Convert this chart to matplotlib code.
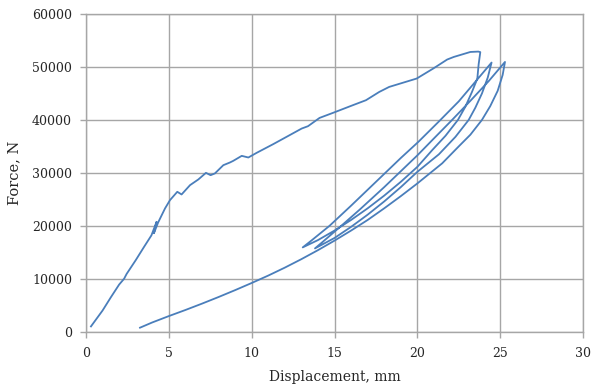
import numpy as np
import matplotlib.pyplot as plt

# first loading up to the peak
load_x = [0.3, 1.0, 1.5, 2.0, 2.3, 2.45, 3.0, 3.5, 3.95, 4.26, 4.1, 4.35, 4.77, 5.07, 5.51, 5.77,
          6.28, 6.78, 7.24, 7.52, 7.78, 8.29, 8.69, 8.89, 9.4, 9.8, 10.3, 11.3, 12.1, 13.02, 13.4,
          14.1, 14.9, 16.1, 16.9, 17.7, 18.3, 19.96, 20.96, 21.8, 22.2, 23.2, 23.68]
load_y = [1000, 4000, 6500, 8900, 10000, 10900, 13500, 16000, 18200, 20750, 18600, 20600, 23280, 24850,
          26420, 25920, 27680, 28750, 30000, 29560, 29890, 31450, 31960, 32270, 33210, 32900, 33780,
          35420, 36790, 38370, 38810, 40380, 41320, 42770, 43720, 45280, 46230, 47810, 49700, 51400,
          51890, 52830, 52900]

# unloading / reloading cycles
unload1_x = [23.8, 23.7, 23.62, 23.3, 22.9, 22.45, 21.7, 20.9, 20.0, 19.0, 18.0, 17.0, 16.0, 15.0, 14.0, 13.08]
unload1_y = [52800, 50500, 47800, 45300, 42500, 40000, 37000, 34300, 31130, 28300, 25700, 23300, 21100, 19100, 17300, 15920]

reload1_x = [13.6, 14.7, 16.0, 17.0, 18.0, 19.0, 20.06, 21.3, 22.5, 23.5, 24.48]
reload1_y = [17200, 20000, 23800, 26800, 29800, 32800, 35850, 39700, 43500, 47200, 50830]

unload2_x = [24.25, 23.9, 23.5, 23.1, 22.3, 21.3, 20.0, 19.0, 18.0, 17.0, 16.0, 15.0, 14.4, 13.82]
unload2_y = [48000, 45000, 42300, 40000, 36800, 33500, 30190, 27300, 24600, 22100, 19800, 17700, 16700, 15730]

reload2_x = [14.3, 15.3, 16.5, 18.0, 19.0, 20.0, 21.0, 22.1, 23.2, 24.3, 25.29]
reload2_y = [17000, 19700, 23000, 27300, 30300, 33300, 36500, 40000, 43600, 47300, 50950]

unload3_x = [25.15, 24.85, 24.4, 23.9, 23.2, 22.5, 21.5, 20.0, 19.0, 18.0, 17.0, 16.0, 15.0, 14.0,
             13.0, 12.0, 11.0, 10.0, 9.0, 8.0, 7.0, 6.0, 5.0, 4.0, 3.26]
unload3_y = [48500, 45500, 42600, 40000, 37200, 35000, 31800, 28000, 25600, 23300, 21100, 19100, 17200,
             15400, 13700, 12100, 10600, 9200, 7850, 6550, 5300, 4100, 2950, 1750, 760]

disp = np.concatenate([load_x, unload1_x, reload1_x, unload2_x, reload2_x, unload3_x])
force = np.concatenate([load_y, unload1_y, reload1_y, unload2_y, reload2_y, unload3_y])

grid_col = '#a6a6a6'
text_col = '#262626'
plt.rcParams['font.family'] = ['DejaVu Serif']

fig = plt.figure(figsize=(5.91, 3.92), dpi=100)
ax = fig.add_axes([0.1455, 0.1538, 0.841, 0.8105])

ax.plot(disp, force, color='#4a7ebb', linewidth=1.3, solid_joinstyle='round')

ax.set_xlim(0, 30)
ax.set_ylim(0, 60000)
ax.set_xticks(np.arange(0, 31, 5))
ax.set_yticks(np.arange(0, 60001, 10000))
ax.grid(True, color=grid_col, linewidth=1.0)
ax.set_axisbelow(True)
for s in ax.spines.values():
    s.set_color(grid_col)
    s.set_linewidth(1.0)
ax.tick_params(direction='out', length=4, width=1.0, color=grid_col,
               labelsize=9, labelcolor=text_col)
ax.tick_params(axis='x', pad=7)
ax.tick_params(axis='y', pad=6)

ax.set_xlabel('Displacement, mm', fontsize=10, color=text_col, labelpad=7)
ax.set_ylabel('Force, N', fontsize=10.5, color=text_col, labelpad=8)

fig.savefig('out.png', dpi=100)
